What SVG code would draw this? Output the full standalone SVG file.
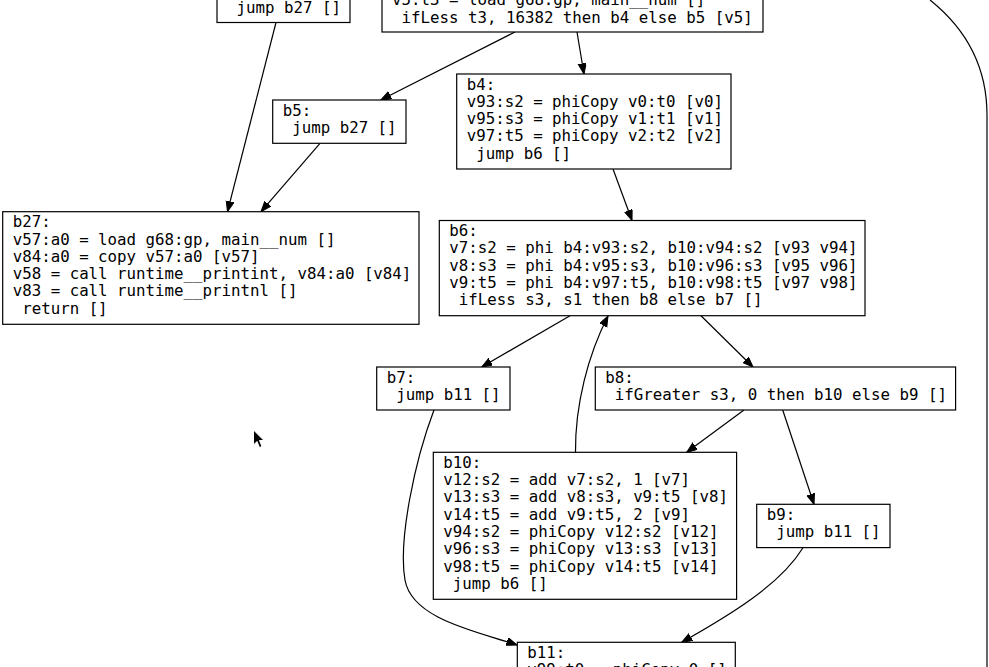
<svg xmlns="http://www.w3.org/2000/svg" width="989" height="667" viewBox="0 0 989 667">
<style>
.box{fill:#ffffff;stroke:#000000;stroke-width:1.2}
.t{font-family:"DejaVu Sans Mono","Liberation Mono",monospace;font-size:15.78px;fill:#000000}
.e{fill:none;stroke:#000000;stroke-width:1.2}
</style>
<defs>
<marker id="ah" markerUnits="userSpaceOnUse" markerWidth="12" markerHeight="9" refX="10.5" refY="4" orient="auto">
<path d="M0,0 L10.5,4 L0,8 Z" fill="#000000" stroke="#000000" stroke-width="1"/>
</marker>
</defs>
<rect x="0" y="0" width="989" height="667" fill="#ffffff"/>
<g id="connectors">
<path class="e" d="M276,22.5 L227.5,211.7" marker-end="url(#ah)"/>
<path class="e" d="M320,143.3 L261,211.7" marker-end="url(#ah)"/>
<path class="e" d="M515,32 L380.7,100" marker-end="url(#ah)"/>
<path class="e" d="M577,32 L584,74" marker-end="url(#ah)"/>
<path class="e" d="M613,169 L632,220.5" marker-end="url(#ah)"/>
<path class="e" d="M570,315.7 L481.7,367" marker-end="url(#ah)"/>
<path class="e" d="M701,315.7 L753,367" marker-end="url(#ah)"/>
<path class="e" d="M575.5,452.3 C575,405 588,355 608,316" marker-end="url(#ah)"/>
<path class="e" d="M744,410 L686.7,452.3" marker-end="url(#ah)"/>
<path class="e" d="M782.7,410 L814,504.3" marker-end="url(#ah)"/>
<path class="e" d="M434,410 C415,460 398,540 405,580 C412,620 480,632 517,645" marker-end="url(#ah)"/>
<path class="e" d="M803,547.7 C780,585 730,615 681.7,642.3" marker-end="url(#ah)"/>
<path class="e" d="M930,0 C965,28 987,65 987,115 L987,667"/>
</g>
<g id="node_top_left">
<rect class="box" x="217" y="-30" width="133" height="52.5"/>
<text class="t" x="236.5" y="13">jump b27 []</text>
</g>
<g id="node_top_center">
<rect class="box" x="382" y="-60" width="381" height="92"/>
<text class="t" x="392" y="5.2">v5:t3 = load g68:gp, main__num []</text>
<text class="t" x="401.5" y="22.5">ifLess t3, 16382 then b4 else b5 [v5]</text>
</g>
<g id="node_b5">
<rect class="box" x="272.7" y="100" width="133.3" height="43.3"/>
<text class="t" x="282.7" y="115.5">b5:</text>
<text class="t" x="292.2" y="132.8">jump b27 []</text>
</g>
<g id="node_b4">
<rect class="box" x="456.7" y="74" width="274.3" height="95"/>
<text class="t" x="466.7" y="89.5">b4:</text>
<text class="t" x="466.7" y="106.8">v93:s2 = phiCopy v0:t0 [v0]</text>
<text class="t" x="466.7" y="124.1">v95:s3 = phiCopy v1:t1 [v1]</text>
<text class="t" x="466.7" y="141.4">v97:t5 = phiCopy v2:t2 [v2]</text>
<text class="t" x="476.2" y="158.7">jump b6 []</text>
</g>
<g id="node_b27">
<rect class="box" x="2.7" y="211.7" width="416.3" height="112.6"/>
<text class="t" x="12.7" y="227.2">b27:</text>
<text class="t" x="12.7" y="244.5">v57:a0 = load g68:gp, main__num []</text>
<text class="t" x="12.7" y="261.8">v84:a0 = copy v57:a0 [v57]</text>
<text class="t" x="12.7" y="279.1">v58 = call runtime__printint, v84:a0 [v84]</text>
<text class="t" x="12.7" y="296.4">v83 = call runtime__printnl []</text>
<text class="t" x="22.2" y="313.7">return []</text>
</g>
<g id="node_b6">
<rect class="box" x="439.3" y="220.5" width="425.7" height="95.2"/>
<text class="t" x="449.3" y="236">b6:</text>
<text class="t" x="449.3" y="253.3">v7:s2 = phi b4:v93:s2, b10:v94:s2 [v93 v94]</text>
<text class="t" x="449.3" y="270.6">v8:s3 = phi b4:v95:s3, b10:v96:s3 [v95 v96]</text>
<text class="t" x="449.3" y="287.9">v9:t5 = phi b4:v97:t5, b10:v98:t5 [v97 v98]</text>
<text class="t" x="458.8" y="305.2">ifLess s3, s1 then b8 else b7 []</text>
</g>
<g id="node_b7">
<rect class="box" x="376.7" y="367" width="133.3" height="43"/>
<text class="t" x="386.7" y="382.5">b7:</text>
<text class="t" x="396.2" y="399.8">jump b11 []</text>
</g>
<g id="node_b8">
<rect class="box" x="595.3" y="367" width="360.3" height="43"/>
<text class="t" x="605.3" y="382.5">b8:</text>
<text class="t" x="614.8" y="399.8">ifGreater s3, 0 then b10 else b9 []</text>
</g>
<g id="node_b10">
<rect class="box" x="433.3" y="452.3" width="303.3" height="147"/>
<text class="t" x="443.3" y="467.8">b10:</text>
<text class="t" x="443.3" y="485.1">v12:s2 = add v7:s2, 1 [v7]</text>
<text class="t" x="443.3" y="502.4">v13:s3 = add v8:s3, v9:t5 [v8]</text>
<text class="t" x="443.3" y="519.7">v14:t5 = add v9:t5, 2 [v9]</text>
<text class="t" x="443.3" y="537">v94:s2 = phiCopy v12:s2 [v12]</text>
<text class="t" x="443.3" y="554.3">v96:s3 = phiCopy v13:s3 [v13]</text>
<text class="t" x="443.3" y="571.6">v98:t5 = phiCopy v14:t5 [v14]</text>
<text class="t" x="452.8" y="588.9">jump b6 []</text>
</g>
<g id="node_b9">
<rect class="box" x="756.7" y="504.3" width="133.3" height="43.3"/>
<text class="t" x="766.7" y="519.8">b9:</text>
<text class="t" x="776.2" y="537.1">jump b11 []</text>
</g>
<g id="node_b11">
<rect class="box" x="517.3" y="642.3" width="218" height="120"/>
<text class="t" x="527.3" y="657.8">b11:</text>
<text class="t" x="527.3" y="675.1">v99:t0 = phiCopy 0 []</text>
</g>
<g id="cursor">
<path d="M253.5,430 L253.5,445 L257,441.5 L259.5,447.5 L262,446.5 L259.5,440.5 L264,440.5 Z" fill="#000000" stroke="#ffffff" stroke-width="1"/>
</g>
</svg>
